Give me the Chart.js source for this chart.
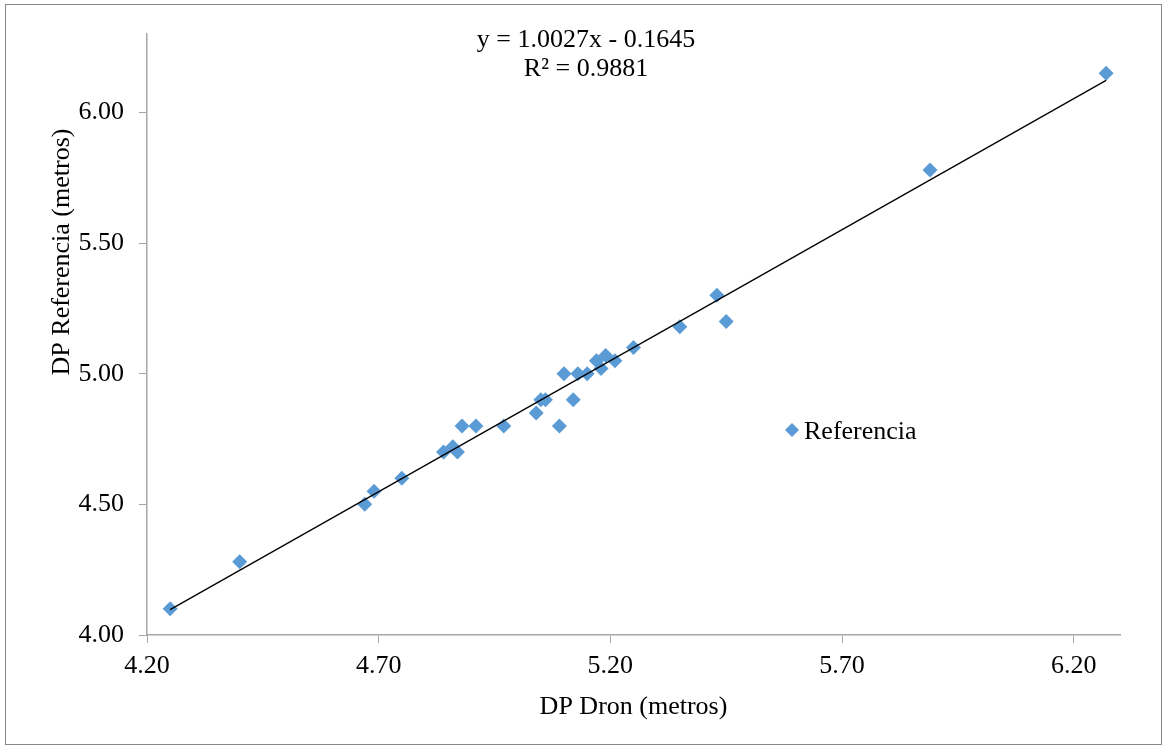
<!DOCTYPE html>
<html>
<head>
<meta charset="utf-8">
<script src="https://cdn.jsdelivr.net/npm/chart.js@4/dist/chart.umd.min.js"></script>
<style>
  html, body { margin: 0; padding: 0; background: #fff; }
  #wrap { position: relative; width: 1166px; height: 749px; }
</style>
</head>
<body>
<div id="wrap"><canvas id="myChart" width="1166" height="749"></canvas></div>
<script>
// datos
const dpDron = [4.25, 4.40, 4.67, 4.69, 4.75, 4.84, 4.86, 4.87, 4.88, 4.91, 4.97, 5.04, 5.05, 5.06, 5.09,
  5.10, 5.12, 5.13, 5.15, 5.17, 5.18, 5.19, 5.21, 5.25, 5.35, 5.43, 5.45, 5.89, 6.27];
const dpReferencia = [4.10, 4.28, 4.50, 4.55, 4.60, 4.70, 4.72, 4.70, 4.80, 4.80, 4.80, 4.85, 4.90, 4.90, 4.80,
  5.00, 4.90, 5.00, 5.00, 5.05, 5.02, 5.07, 5.05, 5.10, 5.18, 5.30, 5.20, 5.78, 6.15];
const xTicks = [4.20, 4.70, 5.20, 5.70, 6.20];
const yTicks = [4.00, 4.50, 5.00, 5.50, 6.00];
const trendSlope = 1.0027;
const trendIntercept = -0.1645;
const rSquared = 0.9881;

const font = "26px 'Liberation Serif', 'Times New Roman', serif";
const axisColor = "#a6a6a6";
const blue = "#5b9bd5";

const points = dpDron.map((v, i) => ({ x: v, y: dpReferencia[i] }));
const xMin = Math.min(...dpDron), xMax = Math.max(...dpDron);
const trend = [xMin, xMax].map(v => ({ x: v, y: trendSlope * v + trendIntercept }));

// titulos, ecuacion, leyenda y marco
const extras = {
  id: "extras",
  beforeDraw(chart) {
    const ctx = chart.ctx;
    ctx.save();
    ctx.fillStyle = "#fff";
    ctx.fillRect(0, 0, chart.width, chart.height);
    ctx.strokeStyle = "#888";
    ctx.lineWidth = 1;
    ctx.strokeRect(5.5, 4.5, 1156, 740);
    ctx.restore();
  },
  afterDraw(chart) {
    const ctx = chart.ctx;
    const area = chart.chartArea;
    ctx.save();
    ctx.font = font;
    ctx.fillStyle = "#000";
    ctx.textAlign = "center";
    ctx.textBaseline = "middle";
    ctx.fillText("y = " + trendSlope.toFixed(4) + "x - " + Math.abs(trendIntercept).toFixed(4), 586, 40);
    ctx.fillText("R² = " + rSquared.toFixed(4), 586, 69);
    ctx.fillText("DP Dron (metros)", (area.left + area.right) / 2, 707);

    ctx.save();
    ctx.translate(62, 252);
    ctx.rotate(-Math.PI / 2);
    ctx.fillText("DP Referencia (metros)", 0, 0);
    ctx.restore();

    // leyenda
    ctx.fillStyle = blue;
    ctx.beginPath();
    ctx.moveTo(792, 423);
    ctx.lineTo(799, 430);
    ctx.lineTo(792, 437);
    ctx.lineTo(785, 430);
    ctx.closePath();
    ctx.fill();
    ctx.fillStyle = "#000";
    ctx.textAlign = "left";
    ctx.fillText("Referencia", 804, 432);
    ctx.restore();
  }
};

new Chart(document.getElementById("myChart"), {
  type: "scatter",
  data: {
    datasets: [
      {
        label: "Lineal (Referencia)",
        data: trend,
        type: "line",
        showLine: true,
        borderColor: "#000",
        borderWidth: 1.3,
        pointRadius: 0,
        fill: false,
        order: 0
      },
      {
        label: "Referencia",
        data: points,
        pointStyle: "rectRot",
        pointRadius: 7.5,
        pointHoverRadius: 7.5,
        backgroundColor: blue,
        borderColor: blue,
        borderWidth: 0,
        order: 1
      }
    ]
  },
  options: {
    responsive: false,
    animation: false,
    layout: { padding: { left: 0, top: 34, right: 46, bottom: 0 } },
    plugins: {
      legend: { display: false },
      tooltip: { enabled: false }
    },
    scales: {
      x: {
        type: "linear",
        min: 4.2,
        max: 6.3,
        afterBuildTicks: s => { s.ticks = xTicks.map(v => ({ value: v })); },
        afterFit: s => { s.height = 114; },
        ticks: {
          color: "#000",
          font: { family: "'Liberation Serif'", size: 26 },
          padding: 8,
          maxRotation: 0,
          callback: v => Number(v).toFixed(2)
        },
        grid: { drawOnChartArea: false, color: axisColor, tickLength: 8 },
        border: { color: axisColor, width: 1.5 }
      },
      y: {
        type: "linear",
        min: 4.0,
        max: 6.3,
        afterBuildTicks: s => { s.ticks = yTicks.map(v => ({ value: v })); },
        afterFit: s => { s.width = 147; },
        ticks: {
          color: "#000",
          font: { family: "'Liberation Serif'", size: 26 },
          padding: 15,
          callback: v => Number(v).toFixed(2)
        },
        grid: { drawOnChartArea: false, color: axisColor, tickLength: 8 },
        border: { color: axisColor, width: 1.5 }
      }
    }
  },
  plugins: [extras]
});
</script>
</body>
</html>
